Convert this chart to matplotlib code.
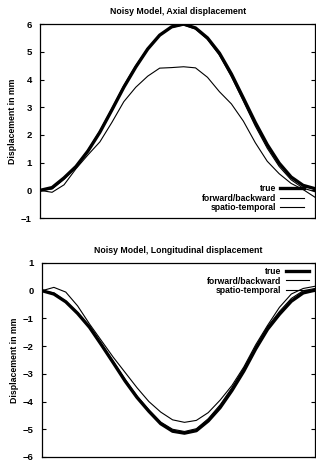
import matplotlib
matplotlib.use("Agg")
import matplotlib.pyplot as plt

plt.rcParams['font.family'] = ['Liberation Sans', 'DejaVu Sans']
plt.rcParams['font.weight'] = 'bold'
plt.rcParams['axes.titleweight'] = 'bold'
plt.rcParams['axes.labelweight'] = 'bold'

# frame index along the sequence (no x labels on the original)
frames = list(range(24))

# Axial displacement (mm)
axial_true = [0, 0.1, 0.45, 0.86, 1.42, 2.1, 2.9, 3.72, 4.45, 5.1, 5.6, 5.9,
              6.0, 5.86, 5.5, 4.95, 4.2, 3.33, 2.45, 1.65, 0.98, 0.48, 0.18, 0.06]
axial_fb = [0, 0.05, 0.4, 0.85, 1.45, 2.15, 2.95, 3.78, 4.5, 5.12, 5.6, 5.88,
            5.97, 5.82, 5.45, 4.88, 4.1, 3.22, 2.32, 1.52, 0.86, 0.38, 0.08, -0.05]
axial_st = [0, -0.07, 0.2, 0.78, 1.28, 1.75, 2.45, 3.2, 3.72, 4.12, 4.41, 4.43,
            4.46, 4.42, 4.08, 3.56, 3.12, 2.5, 1.72, 1.05, 0.6, 0.25, 0.03, -0.25]

# Longitudinal displacement (mm)
long_true = [0, -0.12, -0.4, -0.82, -1.32, -1.95, -2.6, -3.26, -3.85, -4.35, -4.8, -5.07,
             -5.14, -5.05, -4.7, -4.22, -3.6, -2.9, -2.1, -1.39, -0.85, -0.38, -0.08, 0.02]
long_fb = [0, -0.08, -0.38, -0.8, -1.3, -1.92, -2.55, -3.2, -3.8, -4.3, -4.74, -5.0,
           -5.08, -4.98, -4.62, -4.12, -3.5, -2.8, -2.02, -1.3, -0.75, -0.28, 0.0, 0.08]
long_st = [0, 0.12, -0.05, -0.55, -1.2, -1.8, -2.4, -2.95, -3.5, -4.0, -4.38, -4.66,
           -4.75, -4.68, -4.4, -3.95, -3.42, -2.75, -1.95, -1.25, -0.6, -0.12, 0.08, 0.16]

labels = ['true', 'forward/backward', 'spatio-temporal']
axial_ticks = [-1, 0, 1, 2, 3, 4, 5, 6]
long_ticks = [1, 0, -1, -2, -3, -4, -5, -6]

fig = plt.figure(figsize=(3.16, 4.63), dpi=100)
ax1 = fig.add_axes([0.127, 0.529, 0.870, 0.419])
ax2 = fig.add_axes([0.133, 0.013, 0.864, 0.419])


def draw_panel(ax, ys, title, yticks, legend_loc, anchor):
    widths = [2.4, 0.8, 0.8]
    for y, lab, lw in zip(ys, labels, widths):
        ax.plot(frames, y, color='black', linewidth=lw, label=lab)
    ax.set_xlim(frames[0], frames[-1])
    ax.set_ylim(min(yticks), max(yticks))
    ax.set_yticks(yticks)
    ax.set_xticks([])
    ax.tick_params(axis='y', direction='in', length=3, width=0.8,
                   right=True, labelsize=6.8, pad=6)
    for sp in ax.spines.values():
        sp.set_linewidth(0.9)
    ax.set_title(title, fontsize=6.3, pad=7)
    ax.set_ylabel('Displacement in mm', fontsize=6.3, labelpad=3)
    ax.legend(loc=legend_loc, bbox_to_anchor=anchor, frameon=False,
              markerfirst=False, fontsize=6.2, handlelength=2.7,
              handletextpad=0.5, labelspacing=0.1, borderpad=0.2,
              borderaxespad=0)


draw_panel(ax1, [axial_true, axial_fb, axial_st],
           'Noisy Model, Axial displacement', axial_ticks,
           'lower right', (0.965, 0.02))
draw_panel(ax2, [long_true, long_fb, long_st],
           'Noisy Model, Longitudinal displacement', long_ticks,
           'upper right', (0.985, 0.99))

plt.savefig('out.png', dpi=100)
plt.close()
